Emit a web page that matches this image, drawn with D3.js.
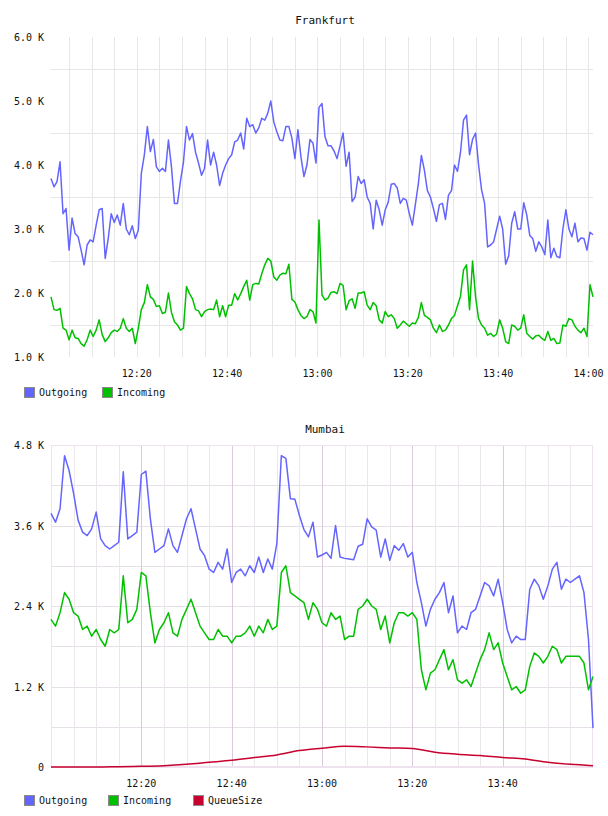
<!DOCTYPE html>
<html>
<head>
<meta charset="utf-8">
<script src="https://cdn.jsdelivr.net/npm/d3@7"></script>
<style>
  body { margin: 0; background: #fff; }
  text { font-family: "DejaVu Sans Mono", monospace; font-size: 10px; fill: #111; }
  .title { font-size: 11px; }
</style>
</head>
<body>
<div id="container"></div>
<script>
/* CONSTANTS AND GLOBALS */
const width = 608;
const height = 816;

/* DATA (values in K) */
// Frankfurt: one sample every 40 s from 12:01
const frankfurtStart = new Date(2020, 0, 1, 12, 1);
const frankfurtStepSec = 40;
const frankfurtOut = [
  3.79, 3.66, 3.74, 4.05, 3.24, 3.32, 2.67, 3.17, 2.93, 2.88, 2.67, 2.44, 2.75, 2.83, 2.80, 3.06, 3.30, 3.32, 2.54, 2.85, 3.24, 3.10, 3.22, 3.06, 3.40, 3.00, 2.91, 3.05, 2.85, 2.98, 3.87, 4.16, 4.60, 4.21, 4.40, 3.97, 3.90, 3.95, 3.90, 4.39, 3.97, 3.40, 3.40, 3.75, 4.05, 4.60,
  4.39, 4.49, 4.20, 4.03, 3.84, 3.95, 4.39, 4.00, 4.20, 4.00, 3.68, 3.87, 4.00, 4.10, 4.16, 4.36, 4.39, 4.50, 4.25, 4.73, 4.60, 4.63, 4.50, 4.58, 4.73, 4.70, 4.81, 5.00, 4.67, 4.52, 4.39, 4.38, 4.60, 4.60, 4.42, 4.10, 4.55, 4.13, 3.82, 4.00, 4.40, 4.34, 4.03, 4.90, 4.96,
  4.44, 4.30, 4.30, 4.22, 4.10, 4.30, 4.50, 3.98, 4.20, 3.43, 3.50, 3.82, 3.71, 3.77, 3.50, 3.40, 3.00, 3.45, 3.30, 3.06, 3.30, 3.42, 3.70, 3.71, 3.64, 3.40, 3.48, 3.45, 3.24, 3.06, 3.38, 3.71, 4.15, 3.92, 3.60, 3.50, 3.32, 3.12, 3.38, 3.40, 3.15, 3.53, 3.60, 4.00, 3.90,
  4.20, 4.70, 4.78, 4.16, 4.40, 4.50, 4.00, 3.61, 3.40, 2.72, 2.75, 2.80, 3.00, 3.20, 3.00, 2.45, 2.58, 3.09, 3.27, 3.00, 3.00, 3.41, 3.22, 2.90, 2.85, 2.65, 2.80, 2.72, 2.60, 3.14, 2.55, 2.70, 2.57, 2.55, 3.00, 3.30, 3.00, 2.88, 3.09, 2.80, 2.86, 2.85, 2.67, 2.95, 2.91
];
const frankfurtIn = [
  1.94, 1.74, 1.73, 1.76, 1.45, 1.42, 1.27, 1.42, 1.30, 1.29, 1.21, 1.17, 1.27, 1.42, 1.32, 1.42, 1.58, 1.35, 1.24, 1.30, 1.38, 1.42, 1.40, 1.45, 1.60, 1.45, 1.40, 1.45, 1.21, 1.45, 1.74, 1.85, 2.13, 1.94, 1.90, 1.79, 1.80, 1.68, 1.70, 2.00, 1.70, 1.55, 1.50, 1.42, 1.45, 2.10,
  1.99, 1.91, 1.74, 1.72, 1.63, 1.71, 1.74, 1.75, 1.74, 1.89, 1.63, 1.80, 1.63, 1.81, 1.81, 1.99, 1.89, 1.99, 2.10, 2.20, 1.89, 2.13, 2.15, 2.14, 2.30, 2.44, 2.54, 2.50, 2.25, 2.20, 2.28, 2.31, 2.30, 2.45, 1.90, 1.86, 1.74, 1.65, 1.60, 1.63, 1.74, 1.71, 1.53, 3.14, 1.97,
  1.89, 1.92, 2.01, 2.02, 1.99, 2.15, 2.12, 1.74, 1.88, 1.91, 1.76, 2.00, 2.00, 2.02, 1.81, 1.74, 1.85, 1.80, 1.58, 1.53, 1.71, 1.63, 1.66, 1.60, 1.45, 1.50, 1.56, 1.52, 1.48, 1.53, 1.52, 1.62, 1.85, 1.65, 1.62, 1.58, 1.45, 1.38, 1.50, 1.40, 1.42, 1.50, 1.60, 1.65, 1.80,
  1.95, 2.36, 2.44, 1.74, 2.50, 1.94, 1.60, 1.50, 1.45, 1.34, 1.37, 1.32, 1.36, 1.58, 1.45, 1.24, 1.21, 1.50, 1.48, 1.42, 1.45, 1.66, 1.37, 1.32, 1.28, 1.33, 1.34, 1.29, 1.26, 1.40, 1.26, 1.29, 1.21, 1.22, 1.50, 1.48, 1.60, 1.58, 1.48, 1.42, 1.38, 1.45, 1.32, 2.13, 1.94
];

// Mumbai: one sample per minute from 12:00, queue read every 5 min
const mumbaiStart = new Date(2020, 0, 1, 12, 0);
const mumbaiStepMin = 1;
const mumbaiOut = [
  3.78, 3.65, 3.85, 4.64, 4.42, 4.08, 3.68, 3.50, 3.45, 3.55,
  3.80, 3.40, 3.30, 3.25, 3.30, 3.35, 4.40, 3.40, 3.45, 3.50,
  4.36, 4.41, 3.70, 3.20, 3.25, 3.30, 3.55, 3.30, 3.20, 3.45,
  3.70, 3.85, 3.55, 3.25, 3.15, 2.95, 2.90, 3.05, 2.95, 3.25,
  2.75, 2.90, 2.95, 2.85, 3.00, 2.90, 3.13, 2.90, 3.10, 2.95,
  3.33, 4.64, 4.60, 4.00, 3.99, 3.75, 3.54, 3.43, 3.65, 3.13,
  3.16, 3.20, 3.11, 3.60, 3.13, 3.11, 3.10, 3.09, 3.29, 3.32,
  3.70, 3.58, 3.53, 3.13, 3.40, 3.08, 3.30, 3.23, 3.33, 3.13,
  3.20, 2.75, 2.45, 2.10, 2.35, 2.50, 2.60, 2.75, 2.30, 2.55,
  2.00, 2.10, 2.05, 2.30, 2.35, 2.55, 2.75, 2.70, 2.55, 2.80,
  2.45, 2.05, 1.85, 1.95, 1.90, 1.90, 2.65, 2.80, 2.70, 2.50,
  2.70, 2.95, 3.05, 2.65, 2.80, 2.75, 2.80, 2.85, 2.60, 1.90, 0.58
];
const mumbaiIn = [
  2.20, 2.10, 2.30, 2.60, 2.50, 2.30, 2.25, 2.05, 2.10, 1.95,
  2.05, 1.90, 1.80, 2.05, 2.00, 2.05, 2.85, 2.15, 2.20, 2.35,
  2.90, 2.85, 2.30, 1.85, 2.05, 2.15, 2.30, 2.00, 1.95, 2.20,
  2.35, 2.50, 2.30, 2.10, 2.00, 1.90, 1.90, 2.05, 1.95, 1.95,
  1.85, 1.95, 1.95, 2.00, 2.10, 1.95, 2.10, 2.00, 2.20, 2.05,
  2.10, 2.90, 3.00, 2.60, 2.55, 2.50, 2.45, 2.20, 2.45, 2.35,
  2.15, 2.10, 2.30, 2.20, 2.25, 1.90, 1.95, 1.95, 2.35, 2.40,
  2.50, 2.40, 2.35, 2.05, 2.25, 1.85, 2.15, 2.30, 2.30, 2.25,
  2.30, 2.20, 1.45, 1.15, 1.40, 1.45, 1.60, 1.75, 1.45, 1.60,
  1.30, 1.25, 1.30, 1.20, 1.40, 1.60, 1.75, 2.00, 1.75, 1.85,
  1.55, 1.35, 1.15, 1.20, 1.10, 1.15, 1.50, 1.70, 1.65, 1.55,
  1.65, 1.80, 1.75, 1.55, 1.65, 1.65, 1.65, 1.65, 1.55, 1.15, 1.35
];
const queueStepMin = 5;
const mumbaiQueue = [
  0.00, 0.00, 0.00, 0.005, 0.01, 0.02, 0.04, 0.07, 0.10, 0.14, 0.18, 0.245, 0.28,
  0.31, 0.30, 0.285, 0.275, 0.22, 0.19, 0.17, 0.14, 0.12, 0.07, 0.04, 0.02
];

const seriesNames = ["Outgoing", "Incoming", "QueueSize"];
const seriesColors = ["#6464ff", "#00c000", "#c8002f"];

const frankfurtTicks = [1, 2, 3, 4, 5, 6];
const mumbaiTicks = [0, 1.2, 2.4, 3.6, 4.8];

/* HELPERS */
const fmtK = d => d === 0 ? "0" : d.toFixed(1) + " K";
const fmtTime = d3.timeFormat("%H:%M");
const toSeries = (start, stepMs, values) =>
  values.map((v, i) => ({ date: new Date(start.getTime() + i * stepMs), value: v }));

/* CREATE SVG ELEMENT */
const svg = d3.select("#container")
  .append("svg")
    .attr("width", width)
    .attr("height", height);

function drawPanel(p) {
  const g = svg.append("g");

  // SCALES
  const x = d3.scaleTime().domain(p.xDomain).range([p.left, p.right]);
  const y = d3.scaleLinear().domain(p.yDomain).range([p.bottom, p.top]);

  // GRID
  g.selectAll(".hgrid")
    .data(p.hGrid)
    .join("line")
      .attr("x1", p.left).attr("x2", p.right)
      .attr("y1", d => Math.round(y(d)) + 0.5).attr("y2", d => Math.round(y(d)) + 0.5)
      .attr("stroke", p.hGridColor);

  const fives = x.ticks(d3.timeMinute.every(5))
    .filter(d => x(d) > p.left + 1 && x(d) < p.right - 1);
  g.selectAll(".vgrid")
    .data(fives)
    .join("line")
      .attr("x1", d => Math.round(x(d)) + 0.5).attr("x2", d => Math.round(x(d)) + 0.5)
      .attr("y1", p.top).attr("y2", p.bottom)
      .attr("stroke", d => d.getMinutes() % 20 === 0 ? p.majorColor : p.vGridColor);

  if (p.border) {
    g.append("rect")
      .attr("x", p.left + 0.5).attr("y", p.top + 0.5)
      .attr("width", p.right - p.left - 1).attr("height", p.bottom - p.top - 1)
      .attr("fill", "none").attr("stroke", p.border);
    g.append("line")
      .attr("x1", p.left).attr("x2", p.right)
      .attr("y1", p.bottom).attr("y2", p.bottom)
      .attr("stroke", p.border).attr("stroke-width", 2);
  }

  // AXES LABELS
  g.selectAll(".ylab")
    .data(p.yTicks)
    .join("text")
      .attr("x", 44)
      .attr("y", d => y(d) + 4)
      .attr("text-anchor", "end")
      .text(fmtK);

  g.selectAll(".xlab")
    .data(x.ticks(d3.timeMinute.every(20)).filter(d => x(d) > p.left + 20 && x(d) <= p.labelMaxX))
    .join("text")
      .attr("x", d => x(d))
      .attr("y", p.bottom + 20)
      .attr("text-anchor", "middle")
      .text(fmtTime);

  // TITLE
  g.append("text")
    .attr("class", "title")
    .attr("x", (p.left + p.right) / 2 + 3)
    .attr("y", p.titleY)
    .attr("text-anchor", "middle")
    .text(p.title);

  // LINES
  const line = d3.line()
    .x(d => x(d.date))
    .y(d => y(d.value));

  p.series.forEach(s => {
    g.append("path")
      .datum(s.data)
      .attr("fill", "none")
      .attr("stroke", s.color)
      .attr("stroke-width", 1.5)
      .attr("stroke-linejoin", "round")
      .attr("d", s.smooth ? line.curve(d3.curveMonotoneX)(s.data) : line.curve(d3.curveLinear)(s.data));
  });

  // LEGEND
  p.series.forEach((s, i) => {
    const lx = p.legendX[i];
    g.append("rect")
      .attr("x", lx + 0.5).attr("y", p.legendY + 0.5)
      .attr("width", 10).attr("height", 10)
      .attr("fill", s.color)
      .attr("stroke", "#8a8a8a");
    g.append("text")
      .attr("x", lx + 15)
      .attr("y", p.legendY + 9)
      .text(s.name);
  });
}

const fStepMs = frankfurtStepSec * 1000;
const fEnd = new Date(frankfurtStart.getTime() + (frankfurtOut.length - 1) * fStepMs);

drawPanel({
  title: "Frankfurt",
  titleY: 24,
  left: 51, right: 593, top: 37, bottom: 357,
  labelMaxX: 593,
  xDomain: [frankfurtStart, fEnd],
  yDomain: [1, 6],
  yTicks: frankfurtTicks,
  hGrid: [1.5, 2.5, 3.5, 4.5, 5.5],
  hGridColor: "#e6e6e6",
  vGridColor: "#e6e6e6",
  majorColor: "#e6e6e6",
  border: null,
  legendX: [24, 102],
  legendY: 387,
  series: [
    { name: seriesNames[0], color: seriesColors[0], data: toSeries(frankfurtStart, fStepMs, frankfurtOut) },
    { name: seriesNames[1], color: seriesColors[1], data: toSeries(frankfurtStart, fStepMs, frankfurtIn) }
  ]
});

const mStepMs = mumbaiStepMin * 60000;
const mEnd = new Date(mumbaiStart.getTime() + (mumbaiOut.length - 1) * mStepMs);

drawPanel({
  title: "Mumbai",
  titleY: 433,
  left: 51, right: 593, top: 445, bottom: 767,
  labelMaxX: 580,
  xDomain: [mumbaiStart, mEnd],
  yDomain: [0, 4.8],
  yTicks: mumbaiTicks,
  hGrid: [0.6, 1.2, 1.8, 2.4, 3.0, 3.6, 4.2],
  hGridColor: "#e8e0e8",
  vGridColor: "#ebe7eb",
  majorColor: "#dccadc",
  border: "#efe2ef",
  legendX: [24, 108, 193],
  legendY: 795,
  series: [
    { name: seriesNames[0], color: seriesColors[0], data: toSeries(mumbaiStart, mStepMs, mumbaiOut) },
    { name: seriesNames[1], color: seriesColors[1], data: toSeries(mumbaiStart, mStepMs, mumbaiIn) },
    { name: seriesNames[2], color: seriesColors[2], data: toSeries(mumbaiStart, queueStepMin * 60000, mumbaiQueue), smooth: true }
  ]
});
</script>
</body>
</html>
